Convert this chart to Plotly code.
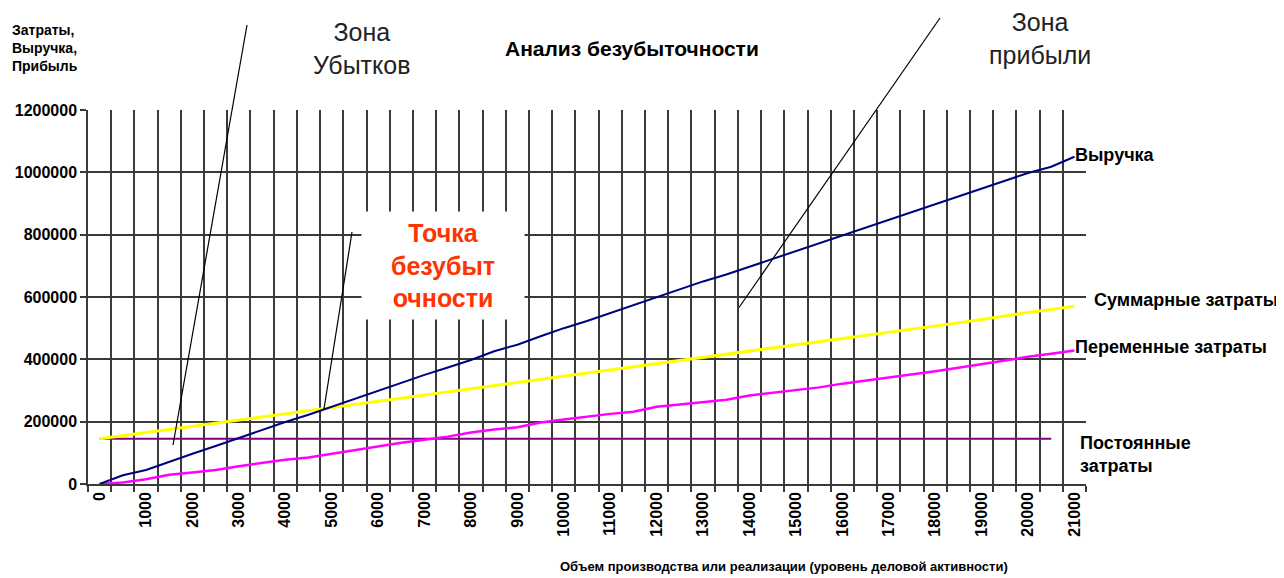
import plotly.graph_objects as go

# ---------------- data ----------------
volume = [0, 500, 1000, 1500, 2000, 2500, 3000, 3500, 4000, 4500, 5000, 5500, 6000,
          6500, 7000, 7500, 8000, 8500, 9000, 9500, 10000, 10500, 11000, 11500, 12000,
          12500, 13000, 13500, 14000, 14500, 15000, 15500, 16000, 16500, 17000, 17500,
          18000, 18500, 19000, 19500, 20000, 20500, 21000]

revenue = [0, 28000, 45000, 72000, 97000, 122000, 148000, 174000, 199000, 222000,
           248000, 274000, 298000, 325000, 350000, 374000, 398000, 426000, 447000,
           474000, 500000, 523000, 548000, 574000, 598000, 625000, 650000, 672000,
           697000, 722000, 748000, 773000, 797000, 822000, 848000, 872000, 897000,
           922000, 948000, 972000, 998000, 1018000, 1050000]

total_costs = [145000, 155000, 165000, 175000, 185000, 195000, 205000, 215000, 225000,
               235000, 245000, 255000, 266000, 276000, 286000, 296000, 306000, 316000,
               326000, 336000, 346000, 356000, 366000, 376000, 386000, 396000, 406000,
               416000, 426000, 436000, 446000, 456000, 466000, 477000, 487000, 497000,
               507000, 517000, 528000, 540000, 550000, 560000, 570000]

variable_costs = [0, 5000, 15000, 30000, 37000, 45000, 57000, 68000, 78000, 85000,
                  97000, 110000, 120000, 132000, 142000, 152000, 165000, 175000, 182000,
                  197000, 207000, 217000, 225000, 232000, 248000, 255000, 262000, 270000,
                  284000, 292000, 300000, 310000, 322000, 332000, 342000, 350000, 362000,
                  373000, 385000, 397000, 408000, 418000, 428000]

fixed_volume = volume[:-1]
fixed_costs = [145000] * len(fixed_volume)

x_tick_values = [0, 1000, 2000, 3000, 4000, 5000, 6000, 7000, 8000, 9000, 10000, 11000,
                 12000, 13000, 14000, 15000, 16000, 17000, 18000, 19000, 20000, 21000]
x_tick_labels = [str(v) for v in x_tick_values]
y_tick_values = [0, 200000, 400000, 600000, 800000, 1000000, 1200000]
y_tick_labels = [str(v) for v in y_tick_values]
y_grid_values = [0, 200000, 400000, 600000, 800000, 1000000]

title_text = "Анализ безубыточности"
y_title_text = "Затраты,<br>Выручка,<br>Прибыль"
x_title_text = "Объем производства или реализации (уровень деловой активности)"

# ---------------- layout helpers ----------------
# page body has an 8px margin; figure is sized/offset so the plot lands on page pixels
OFF = 8
PAGE_L, PAGE_R, PAGE_T, PAGE_B = 88, 1086, 110, 484
W, H = 1284 - OFF, 578 - OFF
L, T = PAGE_L - OFF, PAGE_T - OFF
R, B = W - (PAGE_R - OFF), H - (PAGE_B - OFF)
PW, PH = PAGE_R - PAGE_L, PAGE_B - PAGE_T


def px(x):
    return (x - PAGE_L) / PW


def py(y):
    return (PAGE_B - y) / PH


FONT = "Liberation Sans, Arial, sans-serif"
GRID = "#3a3a3a"

fig = go.Figure()
fig.add_trace(go.Scatter(x=fixed_volume, y=fixed_costs, mode="lines",
                         line=dict(color="#800080", width=2), name="Постоянные затраты"))
fig.add_trace(go.Scatter(x=volume, y=variable_costs, mode="lines",
                         line=dict(color="#FF00FF", width=2.5), name="Переменные затраты"))
fig.add_trace(go.Scatter(x=volume, y=total_costs, mode="lines",
                         line=dict(color="#FFFF00", width=3), name="Суммарные затраты"))
fig.add_trace(go.Scatter(x=volume, y=revenue, mode="lines",
                         line=dict(color="#000080", width=2), name="Выручка"))

fig.update_layout(
    width=W, height=H,
    margin=dict(l=L, r=R, t=T, b=B, autoexpand=False),
    paper_bgcolor="white", plot_bgcolor="white",
    showlegend=False,
    font=dict(family=FONT, color="black"),
    xaxis=dict(
        range=[-250, 21249], tickmode="array", tickvals=x_tick_values, ticktext=x_tick_labels,
        tickangle=-90, ticks="", showgrid=False, zeroline=False,
        tickfont=dict(size=16, family=FONT, weight="bold"),
        showline=True, linecolor=GRID, linewidth=1.5,
        minor=dict(tick0=250, dtick=500, showgrid=True, gridcolor=GRID, gridwidth=1.5,
                   ticks="outside", ticklen=6, tickcolor=GRID, tickwidth=1.5),
    ),
    yaxis=dict(
        range=[0, 1200000], tickmode="array", tickvals=y_tick_values, ticktext=y_tick_labels,
        showgrid=False, zeroline=False,
        ticks="outside", ticklen=6, tickcolor=GRID, tickwidth=1.5,
        showline=True, linecolor=GRID, linewidth=1.5,
        tickfont=dict(size=16, family=FONT, weight="bold"),
    ),
    yaxis2=dict(
        overlaying="y", matches="y", range=[0, 1200000], tickmode="array",
        tickvals=y_grid_values, showticklabels=False, ticks="",
        showgrid=True, gridcolor=GRID, gridwidth=1.5, zeroline=False, showline=False,
    ),
)
# invisible trace to activate the grid-only y axis
fig.add_trace(go.Scatter(x=[volume[0]], y=[revenue[0]], yaxis="y2", mode="markers",
                         marker=dict(opacity=0), hoverinfo="skip", showlegend=False))

annotations = [
    dict(x=px(632), y=py(48), text=title_text, font=dict(size=21, weight="bold")),
    dict(x=px(10), y=py(48.5), text=y_title_text, xanchor="left", align="left",
         font=dict(size=14, weight="bold")),
    dict(x=px(784), y=py(566), text=x_title_text, font=dict(size=13, weight="bold")),
    dict(x=px(361), y=py(48), text="Зона<br>Убытков", font=dict(size=25, color="#222")),
    dict(x=px(1040), y=py(38.5), text="Зона<br>прибыли", font=dict(size=25, color="#222")),
    dict(x=px(443), y=py(265.5), text="Точка<br>безубыт<br>очности", width=160, height=105,
         bgcolor="white", font=dict(size=25, color="#FF3300", weight="bold")),
    dict(x=px(1073), y=py(155), text="Выручка", xanchor="left",
         font=dict(size=18, weight="bold")),
    dict(x=px(1092), y=py(300), text="Суммарные затраты", xanchor="left",
         font=dict(size=18, weight="bold")),
    dict(x=px(1073), y=py(346.7), text="Переменные затраты", xanchor="left",
         font=dict(size=18, weight="bold")),
    dict(x=px(1078), y=py(454), text="Постоянные<br>затраты", xanchor="left", align="left",
         font=dict(size=18, weight="bold")),
]
for a in annotations:
    a.setdefault("xanchor", "center")
    a.update(xref="paper", yref="paper", showarrow=False, yanchor="middle")
    fig.add_annotation(**a)

leader_lines = [((247, 25), (173, 445)), ((352, 232), (324, 409)), ((940, 18), (739, 307.5))]
for (x0, y0), (x1, y1) in leader_lines:
    fig.add_shape(type="line", xref="paper", yref="paper",
                  x0=px(x0), y0=py(y0), x1=px(x1), y1=py(y1),
                  line=dict(color="black", width=1.2), layer="above")

fig.write_html("out.html")
